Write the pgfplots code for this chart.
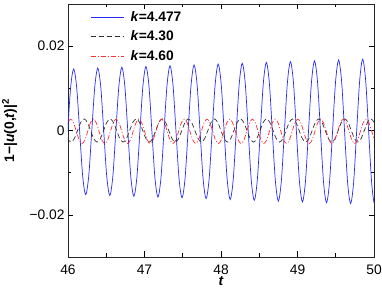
\documentclass[border=0pt]{standalone}
\usepackage{fontspec}
\setmainfont{Liberation Sans}
\usepackage{pgfplots}
\pgfplotsset{compat=1.18}
\usetikzlibrary{calc}
\begin{document}
\begin{tikzpicture}
\begin{axis}[
  name=ax,
  scale only axis, width=306pt, height=253pt,
  xmin=46, xmax=50, ymin=-0.03, ymax=0.03,
  xtick={46,47,48,49,50}, xticklabels={46,47,48,49,50},
  minor xtick={46.5,47.5,48.5,49.5},
  ytick={-0.02,0,0.02}, yticklabels={−0.02,0,0.02},
  minor ytick={-0.01,0.01},
  scaled y ticks=false, scaled x ticks=false,
  tick label style={font=\fontsize{13.8}{15}\selectfont},
  xticklabel style={inner sep=0pt, yshift=-7.5pt},
  major tick length=5.5pt, minor tick length=3.5pt,
  every tick/.style={black, line width=0.6pt},
  axis line style={line width=0.8pt, black!85},
  xlabel={\bfseries\itshape t},
  xlabel style={at={(axis description cs:0.5,-0.075)}, anchor=north, inner sep=0pt, font=\fontsize{13.8}{15}\selectfont},
  ylabel={\bfseries 1−|\textit{u}(0,\textit{t})|\textsuperscript{2}},
  ylabel style={at={(axis description cs:-0.2157,0.5)}, anchor=north, inner sep=0pt, font=\fontsize{13.8}{15}\selectfont},
  legend style={draw=none, fill=none, at={(axis description cs:0.072,0.977)}, anchor=north west,
    font=\fontsize{13.8}{15}\selectfont\bfseries, inner sep=0pt, row sep=4.6pt,
    nodes={inner sep=1.6pt}},
  legend cell align=left,
  legend image code/.code={\draw[#1] (0pt,0pt) -- (33pt,0pt); \path (38pt,0pt);},
]
\addplot[color={rgb,255:red,40;green,40;blue,255}, line width=0.7pt, smooth] coordinates {
(45.9953,-0.00030) (46.0347,0.01024)
(46.0740,0.01460) (46.1134,0.01024) (46.1527,-0.00030) (46.1921,-0.01084) (46.2314,-0.01520) (46.2708,-0.01084) (46.3101,-0.00030) (46.3495,0.01024)
(46.3888,0.01480) (46.4282,0.01038) (46.4675,-0.00030) (46.5069,-0.01098) (46.5462,-0.01540) (46.5856,-0.01098) (46.6249,-0.00030) (46.6643,0.01038)
(46.7036,0.01499) (46.7430,0.01051) (46.7823,-0.00030) (46.8217,-0.01111) (46.8610,-0.01559) (46.9004,-0.01111) (46.9397,-0.00030) (46.9791,0.01051)
(47.0184,0.01518) (47.0578,0.01065) (47.0971,-0.00030) (47.1365,-0.01125) (47.1758,-0.01578) (47.2152,-0.01125) (47.2545,-0.00030) (47.2939,0.01065)
(47.3332,0.01537) (47.3726,0.01078) (47.4119,-0.00030) (47.4513,-0.01138) (47.4906,-0.01597) (47.5300,-0.01138) (47.5693,-0.00030) (47.6087,0.01078)
(47.6480,0.01556) (47.6874,0.01091) (47.7267,-0.00030) (47.7661,-0.01151) (47.8054,-0.01616) (47.8448,-0.01151) (47.8841,-0.00030) (47.9235,0.01091)
(47.9628,0.01576) (48.0022,0.01106) (48.0415,-0.00030) (48.0809,-0.01166) (48.1202,-0.01636) (48.1596,-0.01166) (48.1989,-0.00030) (48.2383,0.01106)
(48.2776,0.01595) (48.3170,0.01119) (48.3563,-0.00030) (48.3957,-0.01179) (48.4350,-0.01655) (48.4744,-0.01179) (48.5137,-0.00030) (48.5531,0.01119)
(48.5924,0.01614) (48.6318,0.01132) (48.6711,-0.00030) (48.7105,-0.01192) (48.7498,-0.01674) (48.7892,-0.01192) (48.8285,-0.00030) (48.8679,0.01132)
(48.9072,0.01633) (48.9466,0.01146) (48.9859,-0.00030) (49.0253,-0.01206) (49.0646,-0.01693) (49.1040,-0.01206) (49.1433,-0.00030) (49.1827,0.01146)
(49.2220,0.01652) (49.2614,0.01159) (49.3007,-0.00030) (49.3401,-0.01219) (49.3794,-0.01712) (49.4188,-0.01219) (49.4581,-0.00030) (49.4975,0.01159)
(49.5368,0.01672) (49.5762,0.01173) (49.6155,-0.00030) (49.6549,-0.01233) (49.6942,-0.01732) (49.7336,-0.01233) (49.7729,-0.00030) (49.8123,0.01173)
(49.8516,0.01691) (49.8910,0.01187) (49.9303,-0.00030) (49.9697,-0.01247) (50.0090,-0.01751) (50.0484,-0.01247)
};
\addlegendentry{\textit{k}=4.477}
\addplot[color={rgb,255:red,50;green,50;blue,50}, line width=0.7pt, dash pattern=on 5pt off 3pt, smooth] coordinates {
(45.9541,0) (45.9967,-0.00194) (46.0393,-0.00275) (46.0819,-0.00194) (46.1245,0) (46.1671,0.00194)
(46.2097,0.00275) (46.2523,0.00194) (46.2949,0) (46.3375,-0.00194) (46.3801,-0.00275) (46.4227,-0.00194) (46.4653,0) (46.5079,0.00194)
(46.5505,0.00275) (46.5931,0.00194) (46.6357,0) (46.6783,-0.00194) (46.7209,-0.00275) (46.7635,-0.00194) (46.8061,0) (46.8487,0.00194)
(46.8913,0.00275) (46.9339,0.00194) (46.9765,0) (47.0191,-0.00194) (47.0617,-0.00275) (47.1043,-0.00194) (47.1469,0) (47.1895,0.00194)
(47.2321,0.00275) (47.2747,0.00194) (47.3173,0) (47.3599,-0.00194) (47.4025,-0.00275) (47.4451,-0.00194) (47.4877,0) (47.5303,0.00194)
(47.5729,0.00275) (47.6155,0.00194) (47.6581,0) (47.7007,-0.00194) (47.7433,-0.00275) (47.7859,-0.00194) (47.8285,0) (47.8711,0.00194)
(47.9137,0.00275) (47.9563,0.00194) (47.9989,0) (48.0415,-0.00194) (48.0841,-0.00275) (48.1267,-0.00194) (48.1693,0) (48.2119,0.00194)
(48.2545,0.00275) (48.2971,0.00194) (48.3397,0) (48.3823,-0.00194) (48.4249,-0.00275) (48.4675,-0.00194) (48.5101,0) (48.5527,0.00194)
(48.5953,0.00275) (48.6379,0.00194) (48.6805,0) (48.7231,-0.00194) (48.7657,-0.00275) (48.8083,-0.00194) (48.8509,0) (48.8935,0.00194)
(48.9361,0.00275) (48.9787,0.00194) (49.0213,0) (49.0639,-0.00194) (49.1065,-0.00275) (49.1491,-0.00194) (49.1917,0) (49.2343,0.00194)
(49.2769,0.00275) (49.3195,0.00194) (49.3621,0) (49.4047,-0.00194) (49.4473,-0.00275) (49.4899,-0.00194) (49.5325,0) (49.5751,0.00194)
(49.6177,0.00275) (49.6603,0.00194) (49.7029,0) (49.7455,-0.00194) (49.7881,-0.00275) (49.8307,-0.00194) (49.8733,0) (49.9159,0.00194)
(49.9585,0.00275) (50.0011,0.00194) (50.0437,0)
};
\addlegendentry{\textit{k}=4.30}
\addplot[color={rgb,255:red,255;green,45;blue,45}, line width=0.7pt, dash pattern=on 5pt off 2pt on 1pt off 2pt, smooth] coordinates {
(45.9236,-0.00225) (45.9608,-0.0002) (45.9979,0.00185)
(46.0350,0.0027) (46.0721,0.00185) (46.1093,-0.0002) (46.1464,-0.00225) (46.1835,-0.0031) (46.2206,-0.00225) (46.2578,-0.0002) (46.2949,0.00185)
(46.3320,0.0027) (46.3691,0.00185) (46.4063,-0.0002) (46.4434,-0.00225) (46.4805,-0.0031) (46.5176,-0.00225) (46.5548,-0.0002) (46.5919,0.00185)
(46.6290,0.0027) (46.6661,0.00185) (46.7033,-0.0002) (46.7404,-0.00225) (46.7775,-0.0031) (46.8146,-0.00225) (46.8518,-0.0002) (46.8889,0.00185)
(46.9260,0.0027) (46.9631,0.00185) (47.0003,-0.0002) (47.0374,-0.00225) (47.0745,-0.0031) (47.1116,-0.00225) (47.1488,-0.0002) (47.1859,0.00185)
(47.2230,0.0027) (47.2601,0.00185) (47.2973,-0.0002) (47.3344,-0.00225) (47.3715,-0.0031) (47.4086,-0.00225) (47.4458,-0.0002) (47.4829,0.00185)
(47.5200,0.0027) (47.5571,0.00185) (47.5943,-0.0002) (47.6314,-0.00225) (47.6685,-0.0031) (47.7056,-0.00225) (47.7428,-0.0002) (47.7799,0.00185)
(47.8170,0.0027) (47.8541,0.00185) (47.8913,-0.0002) (47.9284,-0.00225) (47.9655,-0.0031) (48.0026,-0.00225) (48.0398,-0.0002) (48.0769,0.00185)
(48.1140,0.0027) (48.1511,0.00185) (48.1883,-0.0002) (48.2254,-0.00225) (48.2625,-0.0031) (48.2996,-0.00225) (48.3368,-0.0002) (48.3739,0.00185)
(48.4110,0.0027) (48.4481,0.00185) (48.4853,-0.0002) (48.5224,-0.00225) (48.5595,-0.0031) (48.5966,-0.00225) (48.6338,-0.0002) (48.6709,0.00185)
(48.7080,0.0027) (48.7451,0.00185) (48.7823,-0.0002) (48.8194,-0.00225) (48.8565,-0.0031) (48.8936,-0.00225) (48.9308,-0.0002) (48.9679,0.00185)
(49.0050,0.0027) (49.0421,0.00185) (49.0793,-0.0002) (49.1164,-0.00225) (49.1535,-0.0031) (49.1906,-0.00225) (49.2278,-0.0002) (49.2649,0.00185)
(49.3020,0.0027) (49.3391,0.00185) (49.3763,-0.0002) (49.4134,-0.00225) (49.4505,-0.0031) (49.4876,-0.00225) (49.5248,-0.0002) (49.5619,0.00185)
(49.5990,0.0027) (49.6361,0.00185) (49.6733,-0.0002) (49.7104,-0.00225) (49.7475,-0.0031) (49.7846,-0.00225) (49.8218,-0.0002) (49.8589,0.00185)
(49.8960,0.0027) (49.9331,0.00185) (49.9703,-0.0002) (50.0074,-0.00225) (50.0445,-0.0031)
};
\addlegendentry{\textit{k}=4.60}
\end{axis}
\pgfresetboundingbox
\path[use as bounding box] ($(ax.south west)+(-68pt,-42pt)$) rectangle ($(ax.north east)+(8pt,4pt)$);
\end{tikzpicture}
\end{document}
